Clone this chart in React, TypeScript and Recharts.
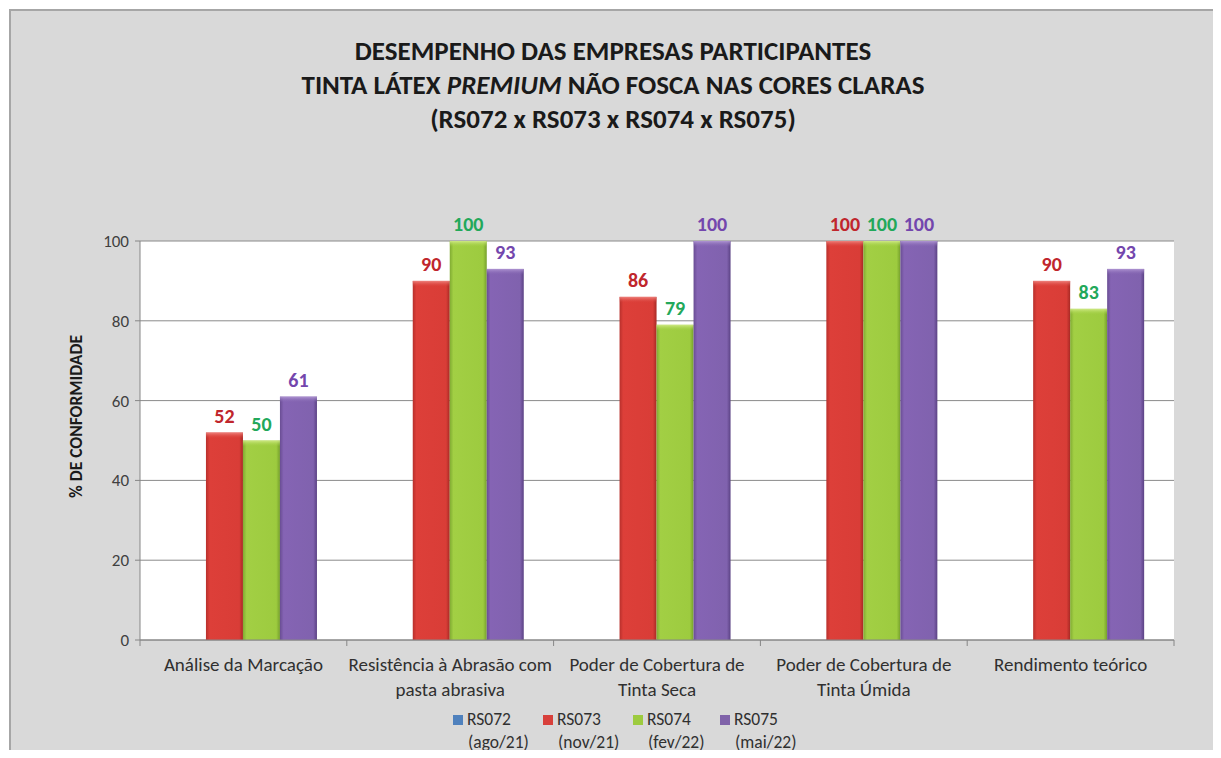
import React from 'react';
import { BarChart, Bar, XAxis, YAxis, CartesianGrid, LabelList } from 'recharts';

const categories = [
  'Análise da Marcação',
  'Resistência à Abrasão com\npasta abrasiva',
  'Poder de Cobertura de\nTinta Seca',
  'Poder de Cobertura de\nTinta Úmida',
  'Rendimento teórico',
];
const rs072: (number | null)[] = [null, null, null, null, null];
const rs073 = [52, 90, 86, 100, 90];
const rs074 = [50, 100, 79, 100, 83];
const rs075 = [61, 93, 100, 100, 93];
const yTicks = [0, 20, 40, 60, 80, 100];

const seriesNames = ['RS072', 'RS073', 'RS074', 'RS075'];
const seriesDates = ['(ago/21)', '(nov/21)', '(fev/22)', '(mai/22)'];
const seriesColors = ['#4f81bd', '#d8403b', '#9dcb3f', '#8063a9'];
const labelColors = ['#2f5f9e', '#c0262c', '#22a85a', '#7346ad'];

const data = categories.map((c, i) => ({
  category: c,
  RS072: rs072[i],
  RS073: rs073[i],
  RS074: rs074[i],
  RS075: rs075[i],
}));

const FONT = "Carlito, Calibri, 'Liberation Sans Narrow', 'Open Sans', sans-serif";
const CHART_W = 1211;
const CHART_H = 748;
const M = { top: 231, right: 47, left: 70, bottom: 58 };
const Y_W = 60;
const PLOT_W = CHART_W - M.left - Y_W - M.right;

const bevel: Record<string, string> = {
  RS072: 'url(#tBlue)',
  RS073: 'url(#tRed)',
  RS074: 'url(#tGreen)',
  RS075: 'url(#tPurple)',
};

const BevelBar = (props: any) => {
  const { x, y, width, height, fill, dataKey } = props;
  if (!height || height <= 0) return null;
  const t = Math.min(6, height);
  return (
    <g>
      <rect x={x} y={y} width={width} height={height} fill={fill} />
      <rect x={x} y={y} width={width} height={t} fill={bevel[dataKey]} />
    </g>
  );
};

const XTick = (props: any) => {
  const { x, y, payload, index } = props;
  const lines = String(payload.value).split('\n');
  const half = PLOT_W / categories.length / 2;
  return (
    <g>
      <line x1={x - half} y1={y - 8} x2={x - half} y2={y - 2} stroke="#868686" />
      {index === categories.length - 1 && (
        <line x1={x + half} y1={y - 8} x2={x + half} y2={y - 2} stroke="#868686" />
      )}
      <text x={x} y={y + 8} textAnchor="middle" fontFamily={FONT} fontSize={19} fill="#303030">
        {lines.map((l, i) => (
          <tspan key={i} x={x} dy={i === 0 ? 15 : 25}>{l}</tspan>
        ))}
      </text>
    </g>
  );
};

export default function App() {
  return (
    <div style={{ position: 'relative', width: 1221, height: 758, margin: -8, background: '#fff', overflow: 'hidden', fontFamily: FONT }}>
      <div style={{ position: 'absolute', left: 9, top: 9, width: 1220, height: 760, background: '#d9d9d9', borderLeft: '2px solid #a6a6a6', borderTop: '2px solid #a6a6a6' }} />
      <div style={{ position: 'absolute', left: 0, top: 34, width: 1226, textAlign: 'center', fontWeight: 'bold', fontSize: 27, lineHeight: '34px', color: '#1a1a1a' }}>
        <div>DESEMPENHO DAS EMPRESAS PARTICIPANTES</div>
        <div>TINTA LÁTEX <i>PREMIUM</i> NÃO FOSCA NAS CORES CLARAS</div>
        <div>(RS072 x RS073 x RS074 x RS075)</div>
      </div>
      <div style={{ position: 'absolute', left: 10, top: 10 }}>
        <BarChart width={CHART_W} height={CHART_H} data={data} margin={M} barCategoryGap="14%" barGap={0}>
          <defs>
            <linearGradient id="gRed" x1="0" y1="0" x2="1" y2="0">
              <stop offset="0" stopColor="#b8302c" />
              <stop offset="0.1" stopColor="#dd3f39" />
              <stop offset="0.9" stopColor="#d93d37" />
              <stop offset="1" stopColor="#a82924" />
            </linearGradient>
            <linearGradient id="gGreen" x1="0" y1="0" x2="1" y2="0">
              <stop offset="0" stopColor="#80ab32" />
              <stop offset="0.1" stopColor="#a2cf44" />
              <stop offset="0.9" stopColor="#9dcb3f" />
              <stop offset="1" stopColor="#76a02c" />
            </linearGradient>
            <linearGradient id="gPurple" x1="0" y1="0" x2="1" y2="0">
              <stop offset="0" stopColor="#694d93" />
              <stop offset="0.1" stopColor="#8564b4" />
              <stop offset="0.9" stopColor="#8062ae" />
              <stop offset="1" stopColor="#5b4284" />
            </linearGradient>
            <linearGradient id="gBlue" x1="0" y1="0" x2="1" y2="0">
              <stop offset="0" stopColor="#3c6aa3" />
              <stop offset="0.5" stopColor="#4f81bd" />
              <stop offset="1" stopColor="#3c6aa3" />
            </linearGradient>
            <linearGradient id="tRed" x1="0" y1="0" x2="0" y2="1">
              <stop offset="0" stopColor="#f08a85" stopOpacity={0.9} />
              <stop offset="1" stopColor="#dc433d" stopOpacity={0} />
            </linearGradient>
            <linearGradient id="tGreen" x1="0" y1="0" x2="0" y2="1">
              <stop offset="0" stopColor="#d4ec8c" stopOpacity={0.9} />
              <stop offset="1" stopColor="#a2cf44" stopOpacity={0} />
            </linearGradient>
            <linearGradient id="tPurple" x1="0" y1="0" x2="0" y2="1">
              <stop offset="0" stopColor="#b49ad6" stopOpacity={0.9} />
              <stop offset="1" stopColor="#8466b2" stopOpacity={0} />
            </linearGradient>
            <linearGradient id="tBlue" x1="0" y1="0" x2="0" y2="1">
              <stop offset="0" stopColor="#9dbbe0" stopOpacity={0.9} />
              <stop offset="1" stopColor="#4f81bd" stopOpacity={0} />
            </linearGradient>
          </defs>
          <CartesianGrid vertical={false} stroke="#8a8a8a" fill="#ffffff" />
          <XAxis
            dataKey="category"
            height={60}
            interval={0}
            tickLine={false}
            axisLine={{ stroke: '#868686' }}
            tick={<XTick />}
          />
          <YAxis
            width={Y_W}
            domain={[0, 100]}
            ticks={yTicks}
            tickSize={5}
            tickMargin={6}
            axisLine={{ stroke: '#868686' }}
            tickLine={{ stroke: '#868686' }}
            tick={{ fontSize: 17, fill: '#404040', fontFamily: FONT }}
            label={{
              value: '% DE CONFORMIDADE',
              angle: -90,
              position: 'insideLeft',
              dx: -9,
              dy: -24,
              style: { textAnchor: 'middle', fontSize: 17.5, fontWeight: 'bold', fill: '#1a1a1a', fontFamily: FONT },
            }}
          />
          <Bar dataKey="RS072" fill="url(#gBlue)" shape={<BevelBar />} isAnimationActive={false} />
          <Bar dataKey="RS073" fill="url(#gRed)" shape={<BevelBar />} isAnimationActive={false}>
            <LabelList dataKey="RS073" position="top" offset={10} fill={labelColors[1]} fontSize={20} fontWeight="bold" fontFamily={FONT} />
          </Bar>
          <Bar dataKey="RS074" fill="url(#gGreen)" shape={<BevelBar />} isAnimationActive={false}>
            <LabelList dataKey="RS074" position="top" offset={10} fill={labelColors[2]} fontSize={20} fontWeight="bold" fontFamily={FONT} />
          </Bar>
          <Bar dataKey="RS075" fill="url(#gPurple)" shape={<BevelBar />} isAnimationActive={false}>
            <LabelList dataKey="RS075" position="top" offset={10} fill={labelColors[3]} fontSize={20} fontWeight="bold" fontFamily={FONT} />
          </Bar>
        </BarChart>
      </div>
      <div style={{ position: 'absolute', top: 708, left: 0, width: 1221, fontSize: 17.5, color: '#303030' }}>
        {seriesNames.map((n, i) => (
          <div key={n} style={{ position: 'absolute', left: [453, 543, 633, 720][i], top: 0, lineHeight: '23px' }}>
            <div style={{ display: 'flex', alignItems: 'center' }}>
              <span style={{ display: 'inline-block', width: 10, height: 10, background: seriesColors[i], marginRight: 4 }} />
              <span>{n}</span>
            </div>
            <div style={{ paddingLeft: 15 }}>{seriesDates[i]}</div>
          </div>
        ))}
      </div>
    </div>
  );
}
